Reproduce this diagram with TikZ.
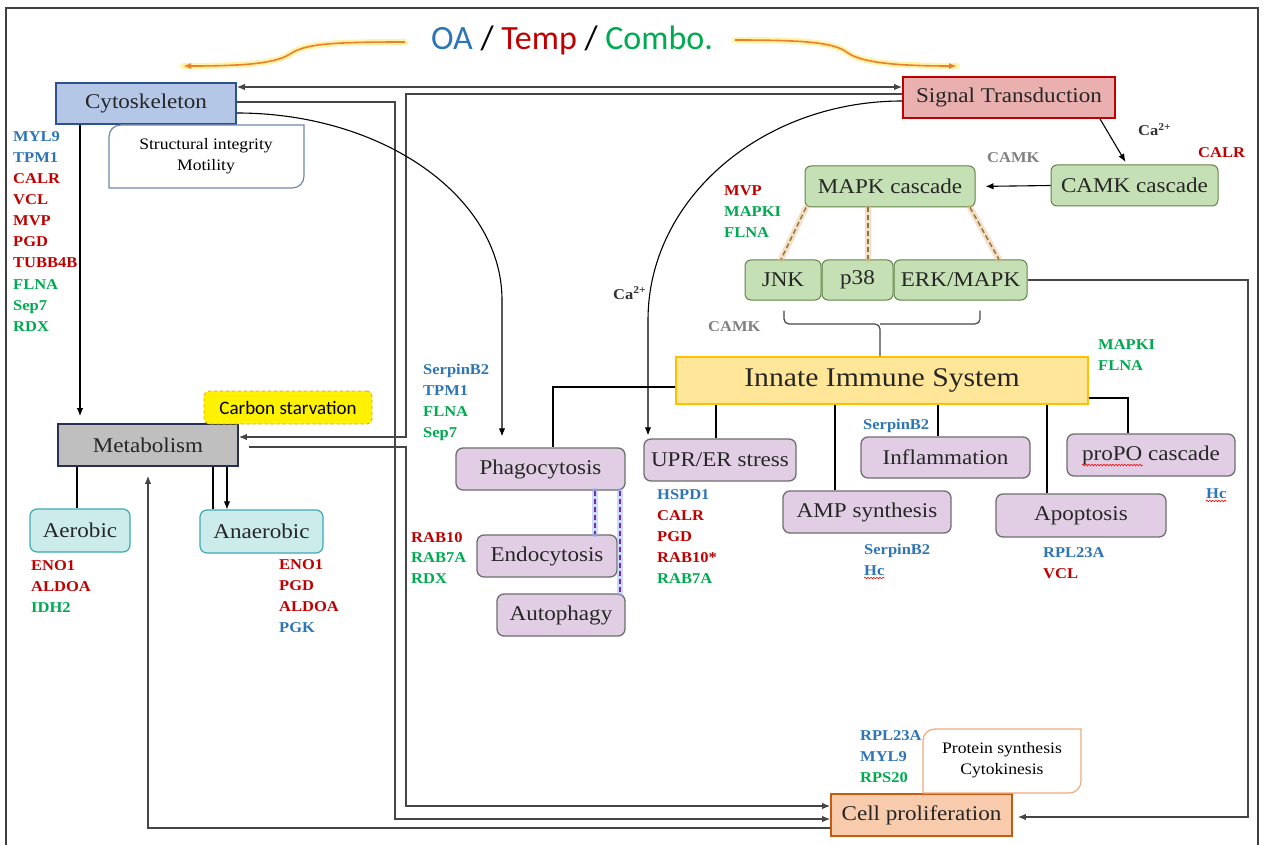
\documentclass[tikz,border=0pt]{standalone}
\usepackage{fontspec}
\setmainfont{Liberation Serif}[FakeStretch=1.1]
\newfontfamily\calibri{Carlito}
\usetikzlibrary{arrows.meta,decorations.pathmorphing}

\definecolor{oablue}{RGB}{46,117,182}
\definecolor{tempred}{RGB}{192,0,0}
\definecolor{combogreen}{RGB}{0,170,80}
\definecolor{cytofill}{RGB}{180,199,231}
\definecolor{cytoline}{RGB}{47,82,143}
\definecolor{metfill}{RGB}{191,191,191}
\definecolor{metline}{RGB}{40,50,80}
\definecolor{stfill}{RGB}{234,175,175}
\definecolor{stline}{RGB}{192,0,0}
\definecolor{iisfill}{RGB}{255,230,153}
\definecolor{iisline}{RGB}{255,192,0}
\definecolor{cellfill}{RGB}{248,203,173}
\definecolor{cellline}{RGB}{197,90,17}
\definecolor{greenfill}{RGB}{197,224,180}
\definecolor{greenline}{RGB}{98,130,72}
\definecolor{purplefill}{RGB}{225,206,228}
\definecolor{purpleline}{RGB}{110,110,110}
\definecolor{tealfill}{RGB}{204,236,236}
\definecolor{tealline}{RGB}{60,170,180}
\definecolor{carbonline}{RGB}{230,150,30}
\definecolor{structline}{RGB}{110,135,170}
\definecolor{protline}{RGB}{240,170,120}
\definecolor{linegray}{RGB}{70,70,70}
\definecolor{camkgray}{RGB}{128,128,128}
\definecolor{caclr}{RGB}{50,50,50}
\definecolor{gloworange}{RGB}{244,177,131}
\definecolor{dashgreen}{RGB}{120,130,50}
\definecolor{dashpurple}{RGB}{112,48,160}
\definecolor{glowblue}{RGB}{150,170,255}
\definecolor{arroworange}{RGB}{237,125,49}
\definecolor{glowyellow}{RGB}{255,230,60}

\begin{document}
\begin{tikzpicture}[x=1pt,y=-1pt,
  arr/.style={-{Latex[length=8pt,width=6.5pt]}},
  conn/.style={draw=linegray,line width=1.1pt},
  treeline/.style={draw=black,line width=1.8pt},
  sz/.style 2 args={minimum width=#1pt,minimum height=#2pt},
  boxtext/.style={font=\fontsize{21}{24}\selectfont,text=black!85,inner sep=0pt},
  sharpbox/.style={boxtext,line width=1.8pt},
  greenbox/.style={boxtext,rounded corners=6pt,fill=greenfill,draw=greenline,line width=1pt},
  purplebox/.style={boxtext,rounded corners=7pt,fill=purplefill,draw=purpleline,line width=1.3pt},
  tealbox/.style={boxtext,rounded corners=7pt,fill=tealfill,draw=tealline,line width=1.2pt},
  gene/.style={font=\bfseries\fontsize{15}{18}\selectfont,inner sep=0pt,anchor=base west},
  smalltext/.style={font=\fontsize{16}{21}\selectfont,align=center,inner sep=0pt},
  wavy/.style={draw=red,line width=0.6pt,decorate,decoration={snake,amplitude=0.8pt,segment length=3pt}},
  glowline/.style={line width=6pt,opacity=0.45,line cap=round},
]
\useasboundingbox (0,0) rectangle (1264,845);
\fill[white] (0,0) rectangle (1264,845);
\clip (0,0) rectangle (1264,845);

% outer frame
\draw[line width=1.4pt,black!75] (6,860) -- (6,8) -- (1258,8) -- (1258,860);

% ---------- title and the two arrows beside it
\node[font=\calibri\fontsize{34}{40}\selectfont,anchor=base,inner sep=0pt] (title) at (572,50)
  {\textcolor{oablue}{OA} / \textcolor{tempred}{Temp} / \textcolor{combogreen}{Combo.}};
\coordinate (ls) at (405,42);
\coordinate (lend) at (183,66);
\coordinate (rs) at (735,40);
\coordinate (rend) at (957,66);
\draw[glowline,draw=glowyellow] (ls) .. controls (330,42) and (305,44) .. (290,54) .. controls (275,64) and (240,66) .. (lend);
\draw[glowline,draw=glowyellow] (rs) .. controls (810,40) and (835,43) .. (848,53) .. controls (862,63) and (900,66) .. (rend);
\draw[arroworange,line width=1.6pt,-{Latex[length=8pt,width=6pt]}] (ls) .. controls (330,42) and (305,44) .. (290,54) .. controls (275,64) and (240,66) .. (lend);
\draw[arroworange,line width=1.6pt,-{Latex[length=8pt,width=6pt]}] (rs) .. controls (810,40) and (835,43) .. (848,53) .. controls (862,63) and (900,66) .. (rend);

% ---------- boxes
\node[sharpbox,sz={180}{41},fill=cytofill,draw=cytoline] (cyto) at (146,103.5) {Cytoskeleton};
\node[sharpbox,sz={180}{42},fill=metfill,draw=metline] (metab) at (148,445) {Metabolism};
\node[sharpbox,sz={212}{41},fill=stfill,draw=stline] (st) at (1009,97.5) {Signal Transduction};
\node[boxtext,sz={412}{47},fill=iisfill,draw=iisline,line width=2pt,font=\fontsize{27}{30}\selectfont] (iis) at (882,380.5) {Innate Immune System};
\node[sharpbox,sz={181}{42},fill=cellfill,draw=cellline] (cell) at (921.5,815) {Cell proliferation};

\node[greenbox,sz={167}{41}] (camk) at (1134.5,185.5) {CAMK cascade};
\node[greenbox,sz={170}{41}] (mapk) at (890,186.5) {MAPK cascade};
\node[greenbox,sz={76}{40}] (jnk) at (783,280) {JNK};
\node[greenbox,sz={71}{40}] (p38) at (857.5,280) {p38};
\node[greenbox,sz={133}{40}] (erk) at (960.5,280) {ERK/MAPK};

\node[purplebox,sz={169}{42}] (phago) at (540.5,469) {Phagocytosis};
\node[purplebox,sz={140}{42}] (endo) at (547,556) {Endocytosis};
\node[purplebox,sz={128}{42}] (auto) at (561,615) {Autophagy};
\node[purplebox,sz={152}{42}] (upr) at (720,460) {UPR/ER stress};
\node[purplebox,sz={168}{42}] (amp) at (867,512) {AMP synthesis};
\node[purplebox,sz={169}{41}] (infl) at (945.5,457.5) {Inflammation};
\node[purplebox,sz={170}{43}] (apop) at (1081,515.5) {Apoptosis};
\node[purplebox,sz={168}{42}] (propo) at (1151,455) {proPO cascade};

\node[tealbox,sz={100}{43}] (aero) at (80,530.5) {Aerobic};
\node[tealbox,sz={123}{43}] (anaero) at (261.5,531.5) {Anaerobic};

\node[sz={168}{33},rounded corners=5pt,fill=yellow,draw=carbonline,dashed,line width=0.8pt,
      font=\calibri\fontsize{19}{22}\selectfont,inner sep=0pt] (carbon) at (288,407.5) {Carbon starvation};

% note boxes with two rounded corners
\draw[draw=structline,line width=1.2pt,fill=white] (109,188) -- (109,137) .. controls (109,130) and (114,125) .. (121,125)
  -- (304,125) -- (304,176) .. controls (304,183) and (299,188) .. (292,188) -- cycle;
\node[smalltext] (structtxt) at (206,156) {Structural integrity\\Motility};
\draw[draw=protline,line width=1.2pt,fill=white] (923,793) -- (923,741) .. controls (923,734) and (928,729) .. (935,729)
  -- (1081,729) -- (1081,781) .. controls (1081,788) and (1076,793) .. (1069,793) -- cycle;
\node[smalltext] (prottxt) at (1002,760) {Protein synthesis\\Cytokinesis};

% wavy mark under proPO
\node[boxtext,anchor=base west] (ppw) at (propo.text) {\phantom{proPO}};
\draw[wavy] ([yshift=-5pt]ppw.base west) -- ([yshift=-5pt]ppw.base east);

% ---------- connectors
\draw[conn,{Latex[length=8pt,width=6.5pt]}-{Latex[length=8pt,width=6.5pt]}] (cyto.east |- 0,87) -- (st.west |- 0,87);
\draw[conn,arr] (cyto.east |- 0,102) -- (395,102) -- (395,819) -- (cell.west |- 0,819);
\draw[conn,arr] (st.west |- 0,94) -- (406,94) -- (406,437) -- (metab.east |- 0,437);
\draw[conn,arr,shorten <=10pt] (metab.east |- 0,447) -- (406,447) -- (406,806) -- (cell.west |- 0,806);
\draw[conn,arr,shorten >=9pt] (cell.west |- 0,828) -- (148,828) -- (metab.south);
\draw[conn,arr,draw=black,shorten >=7pt] (cyto.south -| 80,0) -- (metab.north -| 80,0);
\draw[conn,arr,draw=black,shorten >=11pt] (cyto.east |- 0,113) .. controls (383,113) and (502,197) .. (502,300) -- (phago.north -| 502,0);
\draw[conn,arr,draw=black,shorten >=3pt] (st.west |- 0,101) .. controls (762,101) and (648,199) .. (648,320) -- (upr.north -| 648,0);
\draw[conn,arr,draw=black,shorten >=3pt] (st.south -| 1100,0) -- (camk.north -| 1127,0);
\draw[conn,arr,draw=black,shorten >=10pt] (camk.west) -- (mapk.east);
\draw[conn,arr,shorten >=5pt] (erk.east) -- (1248,280) -- (1248,817) -- (cell.east |- 0,817);

% MAPK cascade to its three branches
\draw[glowline,draw=gloworange] (mapk.south -| 806,0) -- (jnk.north -| 781,0);
\draw[glowline,draw=gloworange] (mapk.south -| 868,0) -- (p38.north -| 868,0);
\draw[glowline,draw=gloworange] (mapk.south -| 970,0) -- (erk.north -| 999,0);
\draw[dashgreen,line width=1.4pt,dash pattern=on 5pt off 3pt] (mapk.south -| 806,0) -- (jnk.north -| 781,0);
\draw[dashgreen,line width=1.4pt,dash pattern=on 5pt off 3pt] (mapk.south -| 868,0) -- (p38.north -| 868,0);
\draw[dashgreen,line width=1.4pt,dash pattern=on 5pt off 3pt] (mapk.south -| 970,0) -- (erk.north -| 999,0);

% brace under the three kinases
\draw[linegray,line width=1.2pt,rounded corners=5pt] (jnk.south -| 784,0) ++(0,10) -- (784,324) -- (880,324) -- (iis.north -| 880,0);
\draw[linegray,line width=1.2pt,rounded corners=5pt] (erk.south -| 980,0) ++(0,10) -- (980,324) -- (880,324);

% Phagocytosis to Endocytosis and Autophagy
\draw[glowline,draw=glowblue] (phago.south -| 595,0) -- (endo.north -| 595,0);
\draw[glowline,draw=glowblue] (phago.south -| 620,0) -- (auto.north -| 620,0);
\draw[dashpurple,line width=1.4pt,dash pattern=on 5pt off 3pt] (phago.south -| 595,0) -- (endo.north -| 595,0);
\draw[dashpurple,line width=1.4pt,dash pattern=on 5pt off 3pt] (phago.south -| 620,0) -- (auto.north -| 620,0);

% innate immune system tree
\draw[treeline] (iis.west |- 0,387) -- (553,387) -- (phago.north -| 553,0);
\draw[treeline] (iis.south -| 716,0) -- (upr.north -| 716,0);
\draw[treeline] (iis.south -| 835,0) -- (amp.north -| 835,0);
\draw[treeline] (iis.south -| 938,0) -- (infl.north -| 938,0);
\draw[treeline] (iis.south -| 1047,0) -- (apop.north -| 1047,0);
\draw[treeline] (iis.east |- 0,398) -- (1128,398) -- (propo.north -| 1128,0);

% metabolism branches
\draw[treeline] (metab.south -| 77,0) -- (aero.north -| 77,0);
\draw[treeline] (metab.south -| 213,0) -- (anaero.north -| 213,0);
\draw[conn,arr,draw=black] (metab.south -| 227,0) -- (anaero.north -| 227,0);

% ---------- gene labels
\foreach \c/\t [count=\i] in {oablue/MYL9,oablue/TPM1,tempred/CALR,tempred/VCL,tempred/MVP,tempred/PGD,tempred/TUBB4B,combogreen/FLNA,combogreen/Sep7,combogreen/RDX}
  \node[gene,text=\c] (cytog\i) at (13,{142+21*(\i-1)}) {\t};
\foreach \c/\t [count=\i] in {tempred/ENO1,tempred/ALDOA,combogreen/IDH2}
  \node[gene,text=\c] (aerog\i) at (31,{570+21*(\i-1)}) {\t};
\foreach \c/\t [count=\i] in {tempred/ENO1,tempred/PGD,tempred/ALDOA,oablue/PGK}
  \node[gene,text=\c] (anaerog\i) at (279,{569+21*(\i-1)}) {\t};
\foreach \c/\t [count=\i] in {oablue/SerpinB2,oablue/TPM1,combogreen/FLNA,combogreen/Sep7}
  \node[gene,text=\c] (phagog\i) at (423,{374+21*(\i-1)}) {\t};
\foreach \c/\t [count=\i] in {tempred/RAB10,combogreen/RAB7A,combogreen/RDX}
  \node[gene,text=\c] (endog\i) at (411,{542+20.5*(\i-1)}) {\t};
\foreach \c/\t [count=\i] in {oablue/HSPD1,tempred/CALR,tempred/PGD,tempred/RAB10*,combogreen/RAB7A}
  \node[gene,text=\c] (uprg\i) at (657,{499+21*(\i-1)}) {\t};
\foreach \c/\t [count=\i] in {tempred/MVP,combogreen/MAPKI,combogreen/FLNA}
  \node[gene,text=\c] (mapkg\i) at (724,{196+21*(\i-1)}) {\t};
\foreach \c/\t [count=\i] in {combogreen/MAPKI,combogreen/FLNA}
  \node[gene,text=\c] (iisg\i) at (1098,{349+21*(\i-1)}) {\t};
\foreach \c/\t [count=\i] in {oablue/RPL23A,tempred/VCL}
  \node[gene,text=\c] (apopg\i) at (1043,{557+21*(\i-1)}) {\t};
\foreach \c/\t [count=\i] in {oablue/RPL23A,oablue/MYL9,combogreen/RPS20}
  \node[gene,text=\c] (cellg\i) at (860,{740+21*(\i-1)}) {\t};
\node[gene,text=oablue] (inflg) at (863,429) {SerpinB2};
\node[gene,text=oablue] (ampg) at (864,554) {SerpinB2};
\node[gene,text=oablue] (amphc) at (864,575) {Hc};
\draw[wavy] ([yshift=-3pt]amphc.base west) -- ([yshift=-3pt]amphc.base east);
\node[gene,text=oablue] (propohc) at (1206,498) {Hc};
\draw[wavy] ([yshift=-3pt]propohc.base west) -- ([yshift=-3pt]propohc.base east);
\node[gene,text=tempred] (camkg) at (1198,158) {CALR};
\node[gene,text=camkgray] (camk1) at (987,163) {CAMK};
\node[gene,text=camkgray] (camk2) at (708,331) {CAMK};
\node[gene,text=caclr] (ca1) at (1138,136) {Ca\textsuperscript{2+}};
\node[gene,text=caclr] (ca2) at (613,299) {Ca\textsuperscript{2+}};
\end{tikzpicture}
\end{document}
